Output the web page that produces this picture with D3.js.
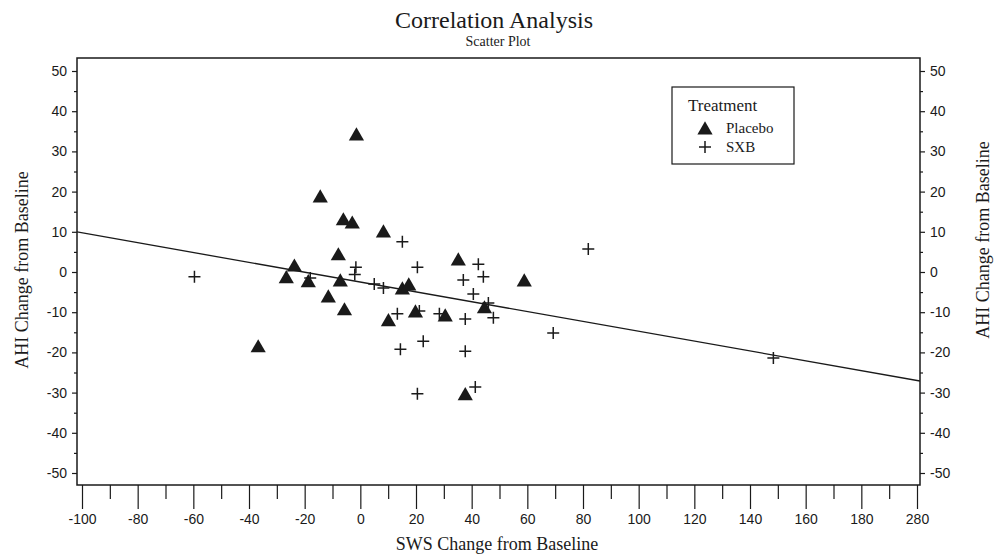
<!DOCTYPE html>
<html>
<head>
<meta charset="utf-8">
<script src="https://cdn.jsdelivr.net/npm/d3@7"></script>
<style>
	body { margin: 0; background: #fff; }
	svg { display: block; }
</style>
</head>
<body>
<svg></svg>
<script>

// Data
var placeboX = [-1.4, -14.4, -6.1, -2.9, -7.9, -23.7, -26.6, -18.7, -11.5, -7.2, -5.7,
	-36.7, 8.3, 15.1, 17.4, 35.2, 44.6, 58.9, 10.1, 19.8, 30.5, 37.7];
var placeboY = [34.3, 18.9, 13.2, 12.4, 4.5, 1.7, -1.2, -2.2, -6.0, -2.0, -9.2,
	-18.4, 10.2, -4.0, -3.0, 3.2, -8.7, -2.0, -11.9, -9.7, -10.7, -30.3];
var sxbX = [-59.6, -18.0, -1.6, -2.0, 15.1, 5.0, 8.3, 20.5, 42.4, 37.0, 44.2, 40.6, 46.0,
	47.8, 81.9, 13.3, 21.2, 28.4, 37.7, 69.3, 14.4, 22.6, 37.7, 20.5, 41.3, 148.4];
var sxbY = [-1.2, -1.5, 1.2, -0.6, 7.5, -3.0, -4.0, 1.2, 1.9, -2.0, -1.2, -5.5, -7.7,
	-11.4, 5.7, -10.4, -9.7, -10.4, -11.7, -15.2, -19.2, -17.2, -19.7, -30.3, -28.6, -21.4];

// regression line: intercept, slope
var fit = [-2.5, -0.1224];

var xTicks = [-100, -80, -60, -40, -20, 0, 20, 40, 60, 80, 100, 120, 140, 160, 180, 200];
var xTickLabels = ['-100', '-80', '-60', '-40', '-20', '0', '20', '40', '60', '80',
	'100', '120', '140', '160', '180', '280'];
var yTicks = [50, 40, 30, 20, 10, 0, -10, -20, -30, -40, -50];

var legendItems = ['Placebo', 'SXB'];

var BOX = { left: 77, right: 920, top: 58, bottom: 485 };
var SANS = '"Liberation Sans", Arial, sans-serif';
var SERIF = '"Liberation Serif", "Times New Roman", serif';
var INK = '#1a1a1a';

var svg = d3.select('svg')
	.attr('width', 1000)
	.attr('height', 555);

var x = d3.scaleLinear().domain([-100, 200]).range([82, 917]);
var y = d3.scaleLinear().domain([-50, 50]).range([473, 71]);

// titles
svg.append('text')
	.attr('x', 494).attr('y', 28)
	.attr('text-anchor', 'middle')
	.style('font-family', SERIF)
	.style('font-size', '24px')
	.style('fill', INK)
	.text('Correlation Analysis');

svg.append('text')
	.attr('x', 498).attr('y', 46)
	.attr('text-anchor', 'middle')
	.style('font-family', SERIF)
	.style('font-size', '14px')
	.style('fill', INK)
	.text('Scatter Plot');

// frame
svg.append('rect')
	.attr('x', BOX.left).attr('y', BOX.top)
	.attr('width', BOX.right - BOX.left)
	.attr('height', BOX.bottom - BOX.top)
	.style('fill', 'none')
	.style('stroke', INK)
	.style('stroke-width', 1.5);

// plain hyphen for negatives, like the original
var fmt = function(d) { return String(d); };

// x axis, ticks hang below the frame
var xAxis = d3.axisBottom(x)
	.tickValues(xTicks)
	.tickSize(24)
	.tickPadding(5)
	.tickFormat(function(d, i) { return xTickLabels[i]; });

var gx = svg.append('g')
	.attr('transform', 'translate(0,' + BOX.bottom + ')')
	.call(xAxis);
gx.select('.domain').remove();

var gxMinor = svg.append('g')
	.attr('transform', 'translate(0,' + BOX.bottom + ')')
	.call(d3.axisBottom(x).tickValues(d3.range(-90, 200, 20)).tickSize(14).tickFormat(''));
gxMinor.select('.domain').remove();

// y axes on both sides
var gyL = svg.append('g')
	.attr('transform', 'translate(' + BOX.left + ',0)')
	.call(d3.axisLeft(y).tickValues(yTicks).tickSize(5).tickPadding(5).tickFormat(fmt));
var gyLm = svg.append('g')
	.attr('transform', 'translate(' + BOX.left + ',0)')
	.call(d3.axisLeft(y).tickValues(d3.range(-45, 50, 10)).tickSize(3).tickFormat(''));
var gyR = svg.append('g')
	.attr('transform', 'translate(' + BOX.right + ',0)')
	.call(d3.axisRight(y).tickValues(yTicks).tickSize(5).tickPadding(5).tickFormat(fmt));
var gyRm = svg.append('g')
	.attr('transform', 'translate(' + BOX.right + ',0)')
	.call(d3.axisRight(y).tickValues(d3.range(-45, 50, 10)).tickSize(3).tickFormat(''));

[gyL, gyLm, gyR, gyRm].forEach(function(g) { g.select('.domain').remove(); });

svg.selectAll('.tick line').style('stroke', INK).style('stroke-width', 1.2);
svg.selectAll('.tick text')
	.style('font-family', SANS)
	.style('font-size', '14px')
	.style('fill', INK);

// axis titles
svg.append('text')
	.attr('x', 497).attr('y', 550)
	.attr('text-anchor', 'middle')
	.style('font-family', SERIF)
	.style('font-size', '18px')
	.style('fill', INK)
	.text('SWS Change from Baseline');

svg.append('text')
	.attr('transform', 'translate(28,270) rotate(-90)')
	.attr('text-anchor', 'middle')
	.style('font-family', SERIF)
	.style('font-size', '18px')
	.style('fill', INK)
	.text('AHI Change from Baseline');

svg.append('text')
	.attr('transform', 'translate(989,240) rotate(-90)')
	.attr('text-anchor', 'middle')
	.style('font-family', SERIF)
	.style('font-size', '18px')
	.style('fill', INK)
	.text('AHI Change from Baseline');

// plot area clip
svg.append('clipPath').attr('id', 'plot-clip')
	.append('rect')
		.attr('x', BOX.left).attr('y', BOX.top)
		.attr('width', BOX.right - BOX.left)
		.attr('height', BOX.bottom - BOX.top);

var plot = svg.append('g').attr('clip-path', 'url(#plot-clip)');

// regression line across the whole frame
var x0 = x.invert(BOX.left), x1 = x.invert(BOX.right);
plot.append('line')
	.attr('x1', x(x0)).attr('y1', y(fit[0] + fit[1] * x0))
	.attr('x2', x(x1)).attr('y2', y(fit[0] + fit[1] * x1))
	.style('stroke', INK)
	.style('stroke-width', 1.3);

var triangle = d3.symbol().type(d3.symbolTriangle).size(100);
var PLUS = 'M-6,0H6M0,-6V6';

// placebo triangles
plot.selectAll('path.placebo')
	.data(placeboX)
	.enter()
	.append('path')
		.attr('class', 'placebo')
		.attr('d', triangle)
		.attr('transform', function(d, i) {
			return 'translate(' + x(d) + ',' + (y(placeboY[i]) + 2) + ')';
		})
		.style('fill', INK);

// SXB crosses
plot.selectAll('path.sxb')
	.data(sxbX)
	.enter()
	.append('path')
		.attr('class', 'sxb')
		.attr('d', PLUS)
		.attr('transform', function(d, i) {
			return 'translate(' + x(d) + ',' + y(sxbY[i]) + ')';
		})
		.style('fill', 'none')
		.style('stroke', INK)
		.style('stroke-width', 1.5);

// legend
var legend = svg.append('g').attr('transform', 'translate(672,87)');

legend.append('rect')
	.attr('width', 122).attr('height', 77)
	.style('fill', '#fff')
	.style('stroke', INK)
	.style('stroke-width', 1.2);

legend.append('text')
	.attr('x', 16).attr('y', 24)
	.style('font-family', SERIF)
	.style('font-size', '17px')
	.style('fill', INK)
	.text('Treatment');

var items = legend.selectAll('g.item')
	.data(legendItems)
	.enter()
	.append('g')
		.attr('class', 'item')
		.attr('transform', function(d, i) { return 'translate(33,' + (41 + 19 * i) + ')'; });

items.append('path')
	.attr('d', function(d, i) { return i == 0 ? triangle() : PLUS; })
	.attr('transform', function(d, i) { return i == 0 ? 'translate(0,2)' : null; })
	.style('fill', function(d, i) { return i == 0 ? INK : 'none'; })
	.style('stroke', function(d, i) { return i == 0 ? 'none' : INK; })
	.style('stroke-width', 1.5);

items.append('text')
	.attr('x', 21).attr('y', 5)
	.style('font-family', SERIF)
	.style('font-size', '15px')
	.style('fill', INK)
	.text(function(d) { return d; });

</script>
</body>
</html>
